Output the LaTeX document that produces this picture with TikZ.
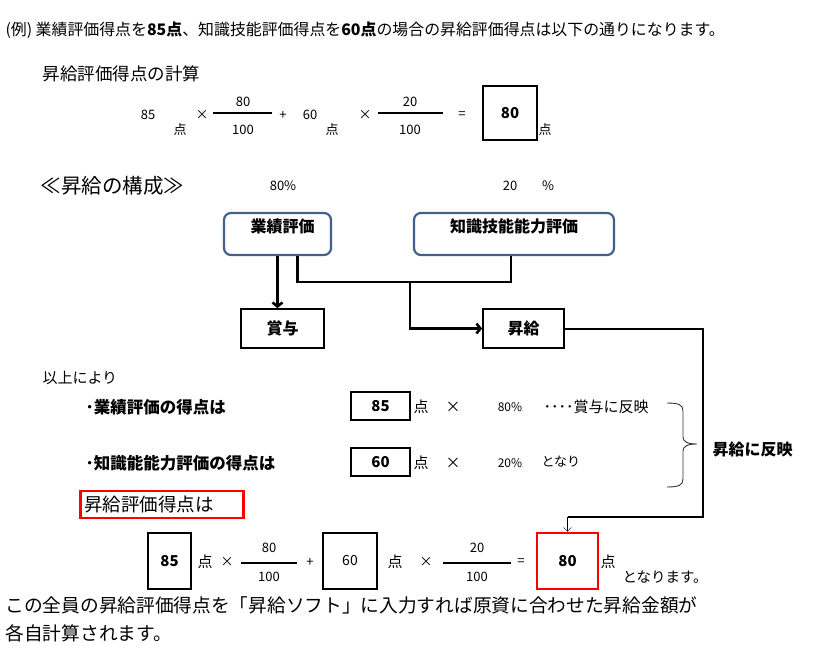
\documentclass[tikz,border=0pt]{standalone}
\usepackage{fontspec}
\setmainfont{Noto Sans CJK JP}
\usetikzlibrary{arrows.meta}
\definecolor{boxblue}{RGB}{65,96,140}
\definecolor{markred}{RGB}{250,0,0}
\newcommand{\fsz}[1]{\fontsize{#1}{#1}\selectfont}

\begin{document}
\begin{tikzpicture}
        [x=1pt, y=-1pt, font=\fsz{13},
        evalbox/.style={draw=boxblue, line width=2.2pt, rounded corners=7pt, inner ysep=7pt,
          text height=12pt, text depth=16pt, font=\fsz{16}\bfseries},
        plainbox/.style={draw, line width=1.8pt, minimum height=39pt, font=\fsz{16}\bfseries},
        numbox/.style={draw, line width=1.8pt, font=\fsz{15}\bfseries},
        redbox/.style={draw=markred, line width=2.6pt},
        link/.style={black, line width=2.6pt},
        route/.style={black, line width=2pt},
        tip/.style={-{Straight Barb[length=4pt,width=10pt]}},
        fracline/.style={black, line width=1.2pt},
        brace/.style={black!80, line width=0.9pt}]

        \useasboundingbox (0,0) rectangle (823,646);

        % opening line
        \node[anchor=west, font=\fsz{15.9}] (intro) at (2,30)
          {(例) 業績評価得点を\textbf{85点}、知識技能評価得点を\textbf{60点}の場合の昇給評価得点は以下の通りになります。};
        \node[anchor=west, font=\fsz{17.5}] (calc) at (39,74) {昇給評価得点の計算};

        % first calculation
        \node (a85) at (148,115) {85};
        \node (apt1) at (180,130) {点};
        \node (atimes1) at (202,115) {×};
        \node (anum1) at (243,102) {80};
        \node (aden1) at (243,130) {100};
        \node (aplus) at (283,115) {+};
        \node (a60) at (310,115) {60};
        \node (apt2) at (332,130) {点};
        \node (atimes2) at (365,115) {×};
        \node (anum2) at (410,102) {20};
        \node (aden2) at (410,130) {100};
        \node (aeq) at (462,115) {=};
        \node[numbox, minimum width=54pt, minimum height=54pt] (asum) at (510,113) {80};
        \node (apt3) at (545,130) {点};
        \draw[fracline] (213,113) -- (272,113);
        \draw[fracline] (378,113) -- (443,113);

        % composition
        \node[anchor=west, font=\fsz{20.5}] (comp) at (37,186) {≪昇給の構成≫};
        \node (pc80) at (283,186) {80\%};
        \node (pc20) at (510,186) {20};
        \node (pcsign) at (548,186) {\%};

        \node[evalbox, minimum width=107pt] (gyo) at (277.5,234) {\hspace{10pt}業績評価};
        \node[evalbox, minimum width=200pt] (chi) at (514,234) {知識技能能力評価};
        \node[plainbox, minimum width=83pt] (shoyo) at (282.5,328.5) {賞与};
        \node[plainbox, minimum width=81pt] (shokyu) at (523.5,328.5) {昇給};
        \coordinate (split) at (410,282);
        \coordinate (turn) at (703,517);

        % scores
        \node[anchor=west, font=\fsz{15}] (above) at (39,378) {以上により};
        \node[anchor=west, font=\fsz{16.5}\bfseries] (item1) at (82,407) {･業績評価の得点は};
        \node[numbox, minimum width=59pt, minimum height=28pt] (b85) at (380.5,406) {85};
        \node[font=\fsz{15}] (bpt1) at (421,407) {点};
        \node[font=\fsz{15}] (btimes1) at (453,407) {×};
        \node[font=\fsz{12}] (b80) at (510,407) {80\%};
        \node[anchor=west, font=\fsz{15}] (bref1) at (540,407) {････賞与に反映};
        \node[anchor=west, font=\fsz{16.5}\bfseries] (item2) at (82,463) {･知識能能力評価の得点は};
        \node[numbox, minimum width=59pt, minimum height=28pt] (b60) at (380.5,462) {60};
        \node[font=\fsz{15}] (bpt2) at (421,463) {点};
        \node[font=\fsz{15}] (btimes2) at (453,463) {×};
        \node[font=\fsz{12}] (b20) at (510,463) {20\%};
        \node[anchor=west, font=\fsz{13}] (bref2) at (538,462) {となり};
        \draw[brace] (667,403) .. controls (679,403) and (683,405) .. (683,411) -- (683,437)
          .. controls (683,442) and (688,444) .. (697,444)
          .. controls (688,444) and (683,446) .. (683,451) -- (683,479)
          .. controls (683,485) and (679,487) .. (667,487);
        \node[anchor=west, font=\fsz{16}\bfseries] (reflect) at (709,449) {昇給に反映};

        % second calculation
        \node[redbox, anchor=west, minimum height=27pt, inner xsep=4pt, text width=155pt, font=\fsz{18.5}] (restitle) at (79,504.5) {昇給評価得点は};
        \node[numbox, minimum width=43pt, minimum height=56pt] (c85) at (169.5,561) {85};
        \node[font=\fsz{15}] (cpt1) at (205,562) {点};
        \node (ctimes1) at (227,562) {×};
        \node (cnum1) at (269,548) {80};
        \node (cden1) at (269,577) {100};
        \node (cplus) at (310,562) {+};
        \node[numbox, minimum width=54pt, minimum height=56pt, font=\fsz{14}] (c60) at (350,561) {60};
        \node[font=\fsz{15}] (cpt2) at (395,562) {点};
        \node (ctimes2) at (426,562) {×};
        \node (cnum2) at (477,548) {20};
        \node (cden2) at (477,577) {100};
        \node (ceq) at (521,562) {=};
        \node[redbox, minimum width=61pt, minimum height=56pt, font=\fsz{15}\bfseries] (res) at (567.5,561) {80};
        \node[font=\fsz{15}] (cpt3) at (608,562) {点};
        \node[anchor=west, font=\fsz{14.5}] (cend) at (619,577) {となります。};
        \draw[fracline, line width=2pt] (241,563) -- (297,563);
        \draw[fracline, line width=2pt] (443,563) -- (511,563);

        \node[anchor=west, font=\fsz{18.7}] (note1) at (2,605)
          {この全員の昇給評価得点を「昇給ソフト」に入力すれば原資に合わせた昇給金額が};
        \node[anchor=west, font=\fsz{18.7}] (note2) at (2,633) {各自計算されます。};

        % connectors
        \draw[link, tip] (gyo.south) -- (gyo.south |- shoyo.north);
        \draw[link] ([xshift=20pt]gyo.south) |- (split) -| ([xshift=-3pt]chi.south);
        \draw[link, tip] (split) |- (shokyu.west);
        \draw[route] (shokyu.east) -| (turn) -- (turn -| res.north);
        \draw[thin, -{Straight Barb[length=4pt,width=8pt]}] (turn -| res.north) -- (res.north);

    \end{tikzpicture}
\end{document}
